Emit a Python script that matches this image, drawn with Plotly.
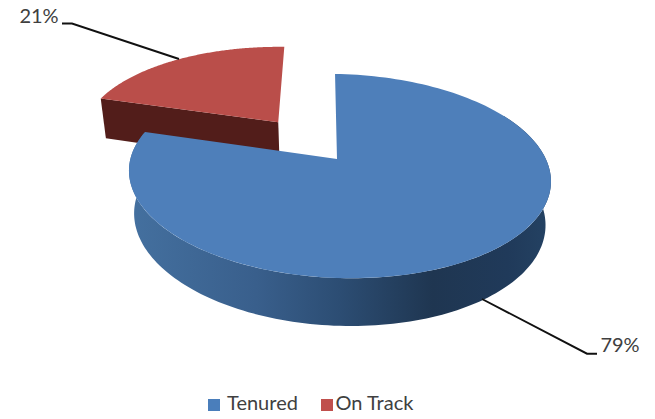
import numpy as np
import plotly.graph_objects as go

# Data
categories = ["Tenured", "On Track"]
values = [79, 21]
colors_top = ["#4E7FBA", "#BA4E4A"]
legend_colors = ["#4A7EBB", "#C0504D"]
font = "Lato, Carlito, sans-serif"
text_col = "#404040"

# Projection of the 3D pie (screen-pixel axes)
CX, CY, R, S, K = 337.0, 159.0, 208.0, 99.2, 0.1667
SKEW, DEPTH, DW = 2.3, 44.0, 0.025
TILT, ROLL = 0.012, 4.0
EXPLODE = 0.485


def project(u, v, low=False):
    w = 1 + K * v - TILT * u + (DW if low else 0)
    z = DEPTH if low else 0
    return CX + (R * u - SKEW * v) / w, CY - (S * v - ROLL * u - z) / w


def arc(t0, t1, off=(0, 0), low=False, n=160):
    t = np.radians(np.linspace(t0, t1, n))
    return project(off[0] + np.sin(t), off[1] + np.cos(t), low)


def poly(xs, ys, color=None, grad=None):
    tr = dict(x=list(xs), y=list(ys), mode="none", fill="toself", hoverinfo="skip", showlegend=False)
    if grad:
        tr["fillgradient"] = grad
    else:
        tr["fillcolor"] = color
    return go.Scatter(**tr)


split = 360 * values[0] / sum(values)
mid = np.radians((split + 360) / 2)
off = (EXPLODE * np.sin(mid), EXPLODE * np.cos(mid))

fig = go.Figure()

# Exploded slice
ax, ay = project(off[0], off[1])
bx, by = project(off[0], off[1], True)
ex, ey = arc(split, split, off, n=1)
fx, fy = arc(split, split, off, True, n=1)
fig.add_trace(poly([ax, ex[0], fx[0], bx], [ay, ey[0], fy[0], by], "#521D1A"))
x, y = arc(split, 360, off)
fig.add_trace(poly(np.r_[ax, x], np.r_[ay, y], colors_top[1]))

# Main slice side wall and top
x1, y1 = arc(60, split)
x2, y2 = arc(60, split, low=True)
side = dict(
    type="horizontal", start=130, stop=550,
    colorscale=[[0, "#44709F"], [0.3, "#395F8C"], [0.5, "#2C4D73"], [0.72, "#1F3651"], [0.9, "#203A5A"], [1, "#244263"]],
)
fig.add_trace(poly(np.r_[x1, x2[::-1]], np.r_[y1, y2[::-1]], grad=side))
x, y = arc(0, split)
cx0, cy0 = project(0, 0)
fig.add_trace(poly(np.r_[cx0, x], np.r_[cy0, y], colors_top[0]))

# Leader lines
label_line_x = [[597, 587, 482], [62, 72, 179]]
label_line_y = [[353.7, 353.7, 299], [23.5, 23.5, 59]]
for lx, ly in zip(label_line_x, label_line_y):
    fig.add_trace(go.Scatter(x=lx, y=ly, mode="lines", line=dict(color="#111111", width=1.9),
                             hoverinfo="skip", showlegend=False))

# Data labels
label_x = [620, 39]
label_y = [347, 18]
fig.add_trace(go.Scatter(x=label_x, y=label_y, mode="text", text=[f"{v}%" for v in values],
                         textfont=dict(family=font, size=20, color=text_col),
                         hoverinfo="skip", showlegend=False))

# Legend keys
legend_x = [214, 327]
legend_y = [405, 405]
legend_pad = [" ", ""]
for name, c, kx, ky, pad in zip(categories, legend_colors, legend_x, legend_y, legend_pad):
    fig.add_trace(go.Scatter(x=[kx], y=[ky], mode="markers+text", name=name, text=[pad + name],
                             textposition="middle right",
                             textfont=dict(family=font, size=20, color=text_col),
                             marker=dict(symbol="square", size=12, color=c),
                             hoverinfo="skip", showlegend=False))

fig.update_layout(
    width=655, height=419, margin=dict(l=0, r=0, t=0, b=0),
    paper_bgcolor="white", plot_bgcolor="white",
    xaxis=dict(range=[0, 655], visible=False, fixedrange=True),
    yaxis=dict(range=[419, 0], visible=False, fixedrange=True),
)
fig.write_html("out.html", config={"displayModeBar": False},
               post_script="document.body.style.margin='0';document.body.style.overflow='hidden';")
